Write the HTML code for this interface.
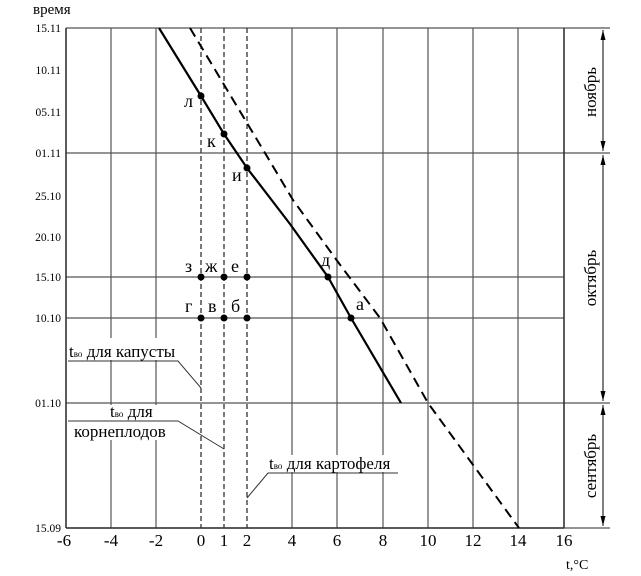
<!DOCTYPE html>
<html><head><meta charset="utf-8"><style>body{margin:0;background:#fff}svg{display:block}</style></head><body>
<svg width="641" height="576" viewBox="0 0 641 576" xmlns="http://www.w3.org/2000/svg" font-family="'Liberation Serif','DejaVu Serif',serif">
<rect width="641" height="576" fill="#fff"/>
<rect x="68" y="338" width="112" height="22" fill="#fff"/>
<rect x="68" y="405" width="112" height="35" fill="#fff"/>
<rect x="268" y="455" width="132" height="17" fill="#fff"/>
<g stroke="#555" stroke-width="1.2">
<line x1="111" y1="28" x2="111" y2="338"/><line x1="111" y1="360" x2="111" y2="405"/><line x1="111" y1="440" x2="111" y2="528"/>
<line x1="156" y1="28" x2="156" y2="338"/><line x1="156" y1="360" x2="156" y2="405"/><line x1="156" y1="440" x2="156" y2="528"/>
<line x1="292" y1="28" x2="292" y2="455"/><line x1="292" y1="472" x2="292" y2="528"/>
<line x1="337" y1="28" x2="337" y2="455"/><line x1="337" y1="472" x2="337" y2="528"/>
<line x1="383" y1="28" x2="383" y2="455"/><line x1="383" y1="472" x2="383" y2="528"/>
<line x1="428" y1="28" x2="428" y2="528"/>
<line x1="473" y1="28" x2="473" y2="528"/><line x1="518" y1="28" x2="518" y2="528"/>
<line x1="66" y1="277" x2="564" y2="277"/><line x1="66" y1="318" x2="564" y2="318"/>
<line x1="66" y1="28" x2="610" y2="28"/><line x1="66" y1="153" x2="610" y2="153"/>
<line x1="66" y1="403" x2="610" y2="403"/><line x1="66" y1="528" x2="610" y2="528"/>
</g>
<g stroke="#333" stroke-width="1.6"><line x1="66" y1="28" x2="66" y2="528"/><line x1="564" y1="28" x2="564" y2="528"/><line x1="66" y1="528" x2="564" y2="528"/></g>
<g stroke="#333" stroke-width="1.3" stroke-dasharray="5,3">
<line x1="201" y1="28" x2="201" y2="528"/><line x1="224" y1="28" x2="224" y2="528"/><line x1="247" y1="28" x2="247" y2="528"/>
</g>
<polyline points="159,28 201,96 224,134 247,168 290,224 328,277 351,318 401,403" fill="none" stroke="#000" stroke-width="2.2"/>
<polyline points="190,28 265,153 293,200 338,262 380,318 428,403 519,528" fill="none" stroke="#000" stroke-width="2" stroke-dasharray="10,6"/>
<g fill="#000">
<circle cx="201" cy="96" r="3.5"/><circle cx="224" cy="134" r="3.5"/><circle cx="247" cy="168" r="3.5"/>
<circle cx="328" cy="277" r="3.5"/><circle cx="351" cy="318" r="3.5"/>
<circle cx="201" cy="277" r="3.5"/><circle cx="224" cy="277" r="3.5"/><circle cx="247" cy="277" r="3.5"/>
<circle cx="201" cy="318" r="3.5"/><circle cx="224" cy="318" r="3.5"/><circle cx="247" cy="318" r="3.5"/>
</g>
<g font-size="18" fill="#000">
<text x="184" y="107">л</text><text x="207" y="147">к</text><text x="232" y="181">и</text>
<text x="321" y="266">д</text><text x="356" y="310">а</text>
<text x="185" y="272">з</text><text x="205" y="272">ж</text><text x="231" y="272">е</text>
<text x="185" y="312">г</text><text x="208" y="312">в</text><text x="231" y="312">б</text>
</g>
<g stroke="#333" stroke-width="1" fill="none">
<polyline points="68,361 178,361 201,388"/>
<polyline points="68,421 178,421 224,449"/>
<polyline points="398,473 268,473 247,498"/>
</g>
<g font-size="17" fill="#000">
<text x="69" y="357">t<tspan font-size="9">во</tspan> для капусты</text>
<text x="110" y="417">t<tspan font-size="9">во</tspan> для</text>
<text x="74" y="437">корнеплодов</text>
<text x="269" y="469">t<tspan font-size="9">во</tspan> для картофеля</text>
</g>
<g font-size="11.5" fill="#000" text-anchor="end">
<text x="61" y="32">15.11</text><text x="61" y="74">10.11</text><text x="61" y="116">05.11</text>
<text x="61" y="157">01.11</text><text x="61" y="200">25.10</text><text x="61" y="241">20.10</text>
<text x="61" y="281">15.10</text><text x="61" y="322">10.10</text><text x="61" y="407">01.10</text>
<text x="61" y="532">15.09</text>
</g>
<text x="33" y="14" font-size="15">время</text>
<g font-size="17" fill="#000" text-anchor="middle">
<text x="64" y="546">-6</text><text x="111" y="546">-4</text><text x="156" y="546">-2</text>
<text x="201" y="546">0</text><text x="224" y="546">1</text><text x="247" y="546">2</text>
<text x="292" y="546">4</text><text x="337" y="546">6</text><text x="383" y="546">8</text>
<text x="428" y="546">10</text><text x="473" y="546">12</text><text x="518" y="546">14</text><text x="564" y="546">16</text>
</g>
<text x="566" y="569" font-size="14">t,°C</text>
<g stroke="#000" stroke-width="1"><line x1="603" y1="30" x2="603" y2="151"/><line x1="603" y1="155" x2="603" y2="401"/><line x1="603" y1="405" x2="603" y2="526"/></g>
<g fill="#000">
<path d="M603,30 l-2.5,10 h5z"/><path d="M603,151 l-2.5,-10 h5z"/>
<path d="M603,155 l-2.5,10 h5z"/><path d="M603,401 l-2.5,-10 h5z"/>
<path d="M603,405 l-2.5,10 h5z"/><path d="M603,526 l-2.5,-10 h5z"/>
</g>
<g font-size="17" fill="#000" text-anchor="middle">
<text transform="translate(596,92) rotate(-90)">ноябрь</text>
<text transform="translate(596,278) rotate(-90)">октябрь</text>
<text transform="translate(596,466) rotate(-90)">сентябрь</text>
</g>
</svg>
</body></html>
